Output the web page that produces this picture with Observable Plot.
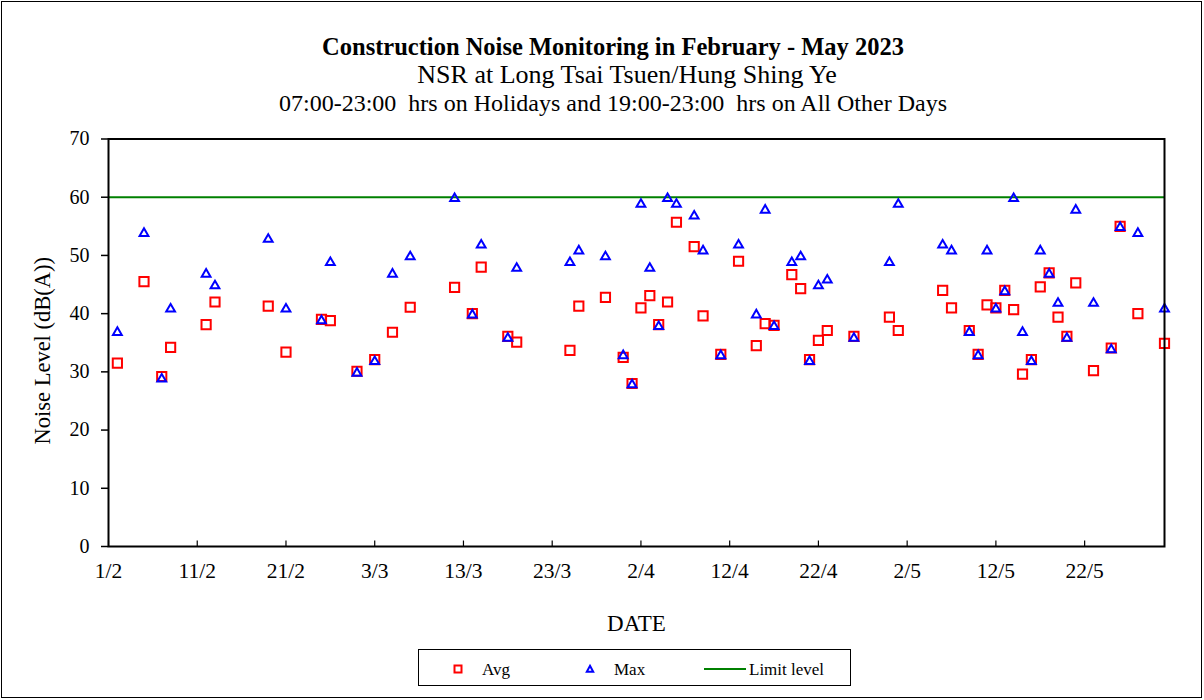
<!DOCTYPE html>
<html>
<head>
<meta charset="utf-8">
<script src="https://cdn.jsdelivr.net/npm/d3@7"></script>
<script src="https://cdn.jsdelivr.net/npm/@observablehq/plot@0.6"></script>
<style>
  body { margin: 0; background: #fff; }
  #wrap { position: relative; width: 1204px; height: 700px; overflow: hidden;
          font-family: "Liberation Serif", "Times New Roman", serif; color: #000; background: #fff; }
  #border { position: absolute; left: 1px; top: 1px; width: 1201px; height: 697px;
            border: 1.5px solid #000; box-sizing: border-box; }
  .t { position: absolute; white-space: pre; line-height: 1; }
  .c { transform: translateX(-50%); }
  #chart { position: absolute; left: 0; top: 120px; }
  #legend { position: absolute; left: 418px; top: 649px; width: 433px; height: 37px;
            border: 1.5px solid #000; box-sizing: border-box; }
  #legend svg { position: absolute; overflow: visible; }
</style>
</head>
<body>
<div id="wrap">
  <div id="border"></div>
  <div class="t c" style="left:613px; top:35px; font-size:24.5px; font-weight:bold;">Construction Noise Monitoring in February - May 2023</div>
  <div class="t c" style="left:627px; top:62px; font-size:26px;">NSR at Long Tsai Tsuen/Hung Shing Ye</div>
  <div class="t c" style="left:613px; top:91px; font-size:24px;">07:00-23:00  hrs on Holidays and 19:00-23:00  hrs on All Other Days</div>
  <div id="chart"></div>
  <div id="legend"></div>
</div>
<script>
// ---- data ----
const dates = [
  "2023-02-02","2023-02-05","2023-02-07","2023-02-08","2023-02-12","2023-02-13","2023-02-19","2023-02-21",
  "2023-02-25","2023-02-26","2023-03-01","2023-03-03","2023-03-05","2023-03-07","2023-03-12","2023-03-14",
  "2023-03-15","2023-03-18","2023-03-19","2023-03-25","2023-03-26","2023-03-29","2023-03-31","2023-04-01",
  "2023-04-02","2023-04-03","2023-04-04","2023-04-05","2023-04-06","2023-04-08","2023-04-09","2023-04-11",
  "2023-04-13","2023-04-15","2023-04-16","2023-04-17","2023-04-19","2023-04-20","2023-04-21","2023-04-22",
  "2023-04-23","2023-04-26","2023-04-30","2023-05-01","2023-05-06","2023-05-07","2023-05-09","2023-05-10",
  "2023-05-11","2023-05-12","2023-05-13","2023-05-14","2023-05-15","2023-05-16","2023-05-17","2023-05-18",
  "2023-05-19","2023-05-20","2023-05-21","2023-05-23","2023-05-25","2023-05-26","2023-05-28","2023-05-31"
];
const avgValues = [
  31.5, 45.5, 29.2, 34.2, 38.1, 42.0, 41.3, 33.4,
  39.0, 38.8, 30.1, 32.1, 36.8, 41.1, 44.5, 40.0,
  48.0, 36.1, 35.1, 33.7, 41.3, 42.8, 32.5, 28.0,
  41.0, 43.1, 38.1, 42.0, 55.7, 51.5, 39.6, 33.0,
  49.0, 34.5, 38.3, 38.0, 46.7, 44.3, 32.1, 35.4,
  37.1, 36.1, 39.4, 37.1, 44.0, 41.0, 37.1, 33.0,
  41.5, 41.0, 44.0, 40.7, 29.6, 32.1, 44.6, 47.0,
  39.4, 36.1, 45.3, 30.2, 34.1, 55.0, 40.0, 34.9
];
const maxValues = [
  37, 54, 29, 41, 47, 45, 53, 41,
  39, 49, 30, 32, 47, 50, 60, 40,
  52, 36, 48, 49, 51, 50, 33, 28,
  59, 48, 38, 60, 59, 57, 51, 33,
  52, 40, 58, 38, 49, 50, 32, 45,
  46, 36, 49, 59, 52, 51, 37, 33,
  51, 41, 44, 60, 37, 32, 51, 47,
  42, 36, 58, 42, 34, 55, 54, 41
];
const limitLevel = 60;
const xDomain = ["2023-02-01", "2023-05-31"];
const xTickDates = ["2023-02-01","2023-02-11","2023-02-21","2023-03-03","2023-03-13","2023-03-23",
                    "2023-04-02","2023-04-12","2023-04-22","2023-05-02","2023-05-12","2023-05-22"];
const yTicks = [0, 10, 20, 30, 40, 50, 60, 70];
const seriesNames = ["Avg", "Max", "Limit level"];
const titleY = "Noise Level (dB(A))";
const titleX = "DATE";

// ---- build ----
const parse = d3.utcParse("%Y-%m-%d");
const rows = dates.map((d, i) => ({date: parse(d), avg: avgValues[i], max: maxValues[i]}));
const xTicks = xTickDates.map(parse);

const squareSym = {draw(ctx) { const s = 4.6; ctx.moveTo(-s, -s); ctx.lineTo(s, -s); ctx.lineTo(s, s); ctx.lineTo(-s, s); ctx.closePath(); }};
const triSym = {draw(ctx) { const w = 4.4, h = 3.8; ctx.moveTo(0, -h); ctx.lineTo(w, h); ctx.lineTo(-w, h); ctx.closePath(); }};
const tickSym = {draw(ctx) { ctx.moveTo(0, 0); ctx.lineTo(0, -6); }};

const font = '"Liberation Serif", "Times New Roman", serif';

const chart = Plot.plot({
  width: 1204,
  height: 526,
  marginLeft: 108,
  marginRight: 40,
  marginTop: 18.5,
  marginBottom: 100,
  style: {fontFamily: font, fontSize: "20px", color: "#000", background: "transparent", overflow: "visible"},
  x: {type: "utc", domain: xDomain.map(parse)},
  y: {domain: [0, 70]},
  marks: [
    Plot.axisY({ticks: yTicks, tickSize: 7, tickPadding: 12, label: null, strokeWidth: 1.5}),
    Plot.axisX({ticks: xTicks, tickSize: 0, tickPadding: 16, tickFormat: d3.utcFormat("%-d/%-m"), label: null, fontSize: 21.5}),
    Plot.dot(xTicks, {x: d => d, y: 0, symbol: tickSym, stroke: "#000", strokeWidth: 1.2}),
    Plot.ruleY([limitLevel], {stroke: "#008000", strokeWidth: 2}),
    Plot.dot(rows, {x: "date", y: "avg", symbol: squareSym, stroke: "#ff0000", fill: "none", strokeWidth: 2}),
    Plot.dot(rows, {x: "date", y: "max", symbol: triSym, stroke: "#0000ff", fill: "none", strokeWidth: 2}),
    Plot.frame({stroke: "#000", strokeWidth: 2}),
    Plot.text([titleY], {text: d => d, frameAnchor: "left", dx: -66, dy: 8, rotate: -90, textAnchor: "middle", lineAnchor: "middle", fontSize: 22.5}),
    Plot.text([titleX], {text: d => d, frameAnchor: "bottom", dy: 68, lineAnchor: "top", fontSize: 23})
  ]
});
document.getElementById("chart").appendChild(chart);

// ---- legend ----
const legend = document.getElementById("legend");
const lx = 418, ly = 649;
function addSvg(cx, cy, w, h, inner) {
  const ns = "http://www.w3.org/2000/svg";
  const s = document.createElementNS(ns, "svg");
  s.setAttribute("width", w); s.setAttribute("height", h);
  s.style.left = (cx - lx - w / 2) + "px"; s.style.top = (cy - ly - h / 2) + "px";
  s.innerHTML = inner;
  legend.appendChild(s);
}
function addText(x, baseline, txt) {
  const d = document.createElement("div");
  d.className = "t";
  d.style.fontSize = "17px";
  d.style.left = (x - lx) + "px";
  d.style.top = (baseline - ly - 0.8375 * 17) + "px";
  d.textContent = txt;
  legend.appendChild(d);
}
addSvg(457, 668, 12, 12, '<rect x="2.5" y="2.5" width="7" height="7" fill="none" stroke="#ff0000" stroke-width="2"/>');
addText(481, 674, seriesNames[0]);
addSvg(589, 668, 12, 12, '<path d="M6,2.8L9.2,8.8L2.8,8.8Z" fill="none" stroke="#0000ff" stroke-width="2"/>');
addText(613, 674, seriesNames[1]);
addSvg(723.5, 668, 42, 4, '<line x1="0" y1="2" x2="42" y2="2" stroke="#008000" stroke-width="2"/>');
addText(748, 674, seriesNames[2]);
</script>
</body>
</html>
